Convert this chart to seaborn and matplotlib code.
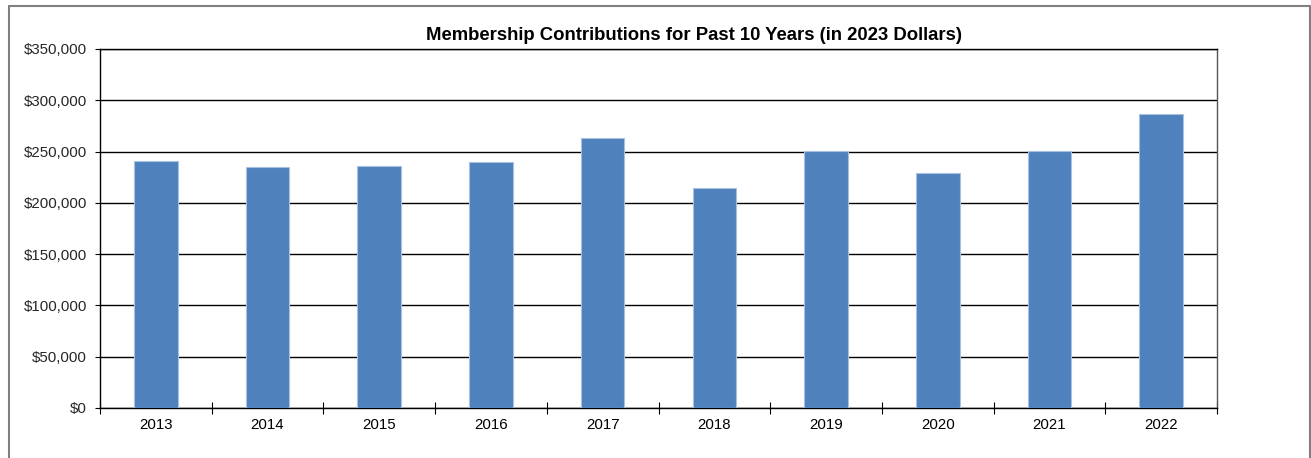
import matplotlib
matplotlib.use("Agg")
import matplotlib.pyplot as plt
import seaborn as sns
import pandas as pd
import numpy as np
from matplotlib.lines import Line2D
from matplotlib.ticker import FuncFormatter, FixedLocator

years = ["2013", "2014", "2015", "2016", "2017", "2018", "2019", "2020", "2021", "2022"]
contributions = [240500, 234700, 235600, 239800, 263200, 214200, 251000, 229100, 250300, 286900]
title = "Membership Contributions for Past 10 Years (in 2023 Dollars)"

sns.set_theme(style="white")
plt.rcParams['font.family'] = ['Liberation Sans', 'DejaVu Sans']

W, H = 1311, 458
fig = plt.figure(figsize=(W / 100, H / 100), dpi=100)
ax = fig.add_axes([100 / W, (H - 408) / H, 1117 / W, 359 / H])

df = pd.DataFrame({"year": years, "value": contributions})
sns.barplot(data=df, x="year", y="value", color="#4F81BD", saturation=1,
            width=0.39, edgecolor="#A9C1E0", linewidth=0.8, ax=ax, zorder=3)

ax.set_ylim(0, 350000)
ax.set_xlim(-0.5, len(years) - 0.5)
ax.set_yticks(np.arange(0, 350001, 50000))
ax.yaxis.set_major_formatter(FuncFormatter(lambda v, p: f"${int(v):,}"))
ax.yaxis.grid(True, color="black", linewidth=1.0, zorder=0)
ax.set_axisbelow(True)
ax.set_xlabel("")
ax.set_ylabel("")

ax.xaxis.set_minor_locator(FixedLocator(np.arange(-0.5, len(years), 1.0)))
ax.tick_params(axis="x", which="major", length=0, pad=7, labelsize=10.8, colors="black")
ax.tick_params(axis="x", which="minor", direction="inout", length=8, width=0.8, color="black", bottom=True)
ax.tick_params(axis="y", which="major", direction="out", length=3.5, width=0.8, color="black",
               pad=6, labelsize=10.8, left=True)

for s in ["left", "bottom", "top"]:
    ax.spines[s].set_color("black")
    ax.spines[s].set_linewidth(1.0)
ax.spines["right"].set_color("#555555")
ax.spines["right"].set_linewidth(1.0)

fig.text(694 / W, 1 - 35 / H, title, ha="center", va="center",
         fontsize=13.3, fontweight="bold", color="black")

# outer chart frame (top, left, right)
fc = "#808080"
x0, x1 = 8.5 / W, 1309.5 / W
y0 = 1 - 6 / H
fig.add_artist(Line2D([x0, x1], [y0, y0], color=fc, linewidth=1.5, transform=fig.transFigure))
fig.add_artist(Line2D([x0, x0], [0, y0], color=fc, linewidth=1.5, transform=fig.transFigure))
fig.add_artist(Line2D([x1, x1], [0, y0], color=fc, linewidth=1.5, transform=fig.transFigure))

fig.savefig("out.png", dpi=100)
